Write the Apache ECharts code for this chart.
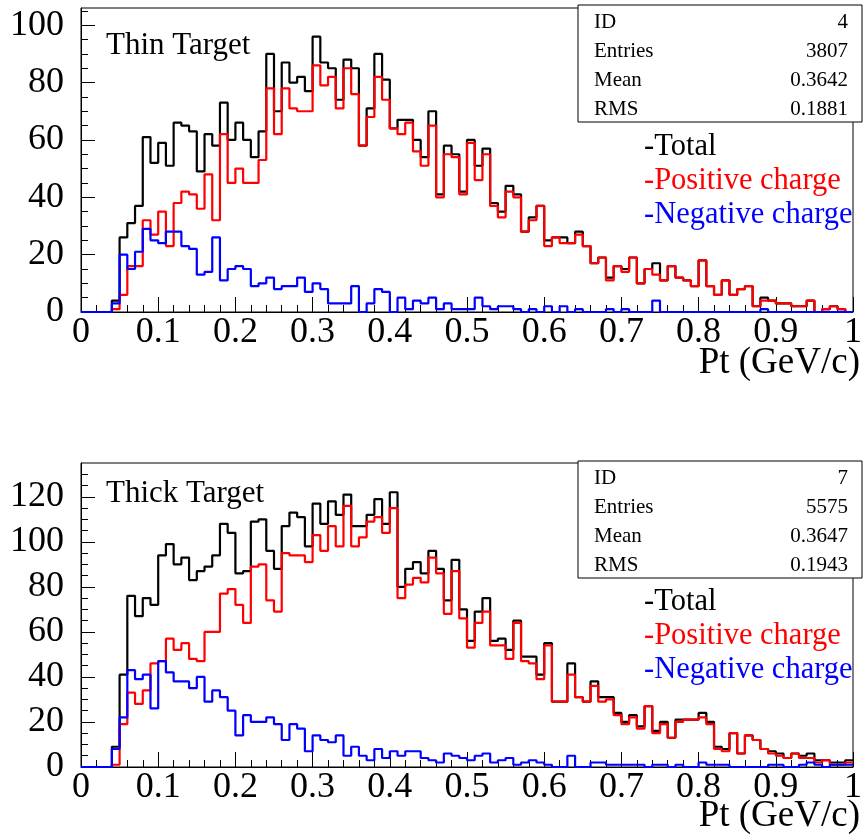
<!DOCTYPE html>
<html>
<head>
<meta charset="utf-8">
<script src="https://cdn.jsdelivr.net/npm/echarts@6/dist/echarts.min.js"></script>
<style>
  html, body { margin: 0; padding: 0; background: #fff; }
  #main { width: 865px; height: 836px; }
</style>
</head>
<body>
<div id="main"></div>
<script>
// Pt histograms, 100 bins of 0.01 GeV/c from 0 to 1
var thinTotal = [0,0,0,0,4,26,31,37,61,52, 59,51,66,65,63,49,62,58,73,60,
  66,60,54,63,90,70,87,80,82,77, 96,87,85,74,88,85,58,71,90,81,
  64,67,67,60,54,70,41,58,55,42, 60,51,57,38,35,44,41,28,33,37,
  25,26,26,24,28,23,17,19,12,16, 15,19,10,15,17,11,16,12,11,9,
  18,9,6,11,6,8,9,2,5,4, 3,3,2,2,4,0,1,2,1,0];
var thinPos = [0,0,0,0,1,6,16,16,32,27, 35,23,38,42,41,36,48,32,62,45,
  50,45,45,53,78,62,78,71,70,70, 86,79,82,71,85,76,58,68,82,74,
  64,62,66,56,51,65,40,55,54,41, 59,46,55,37,33,42,40,28,32,37,
  23,26,24,24,27,23,17,19,11,16, 14,19,10,15,13,11,16,12,11,9,
  18,9,6,11,6,8,9,2,4,4, 3,3,2,2,4,0,1,2,1,0];
var thinNeg = [0,0,0,0,3,20,15,21,29,25, 24,28,28,23,22,13,14,26,11,15,
  16,15,9,10,12,8,9,9,12,7, 10,8,3,3,3,9,0,3,8,7,
  0,5,1,4,3,5,1,3,1,1, 1,5,2,1,2,2,1,0,1,0,
  2,0,2,0,1,0,0,0,1,0, 1,0,0,0,4,0,0,0,0,0,
  0,0,0,0,0,0,0,0,1,0, 0,0,0,0,0,0,0,0,0,0];

var thickTotal = [0,0,0,0,9,41,76,67,75,72, 94,99,90,93,83,87,89,94,108,104,
  86,87,109,110,96,88,107,113,111,98, 117,108,118,112,121,107,107,112,119,108,
  122,80,88,91,86,96,88,74,92,70, 56,69,75,56,57,52,65,49,49,41,
  55,29,29,46,31,29,38,31,31,24, 20,23,18,27,16,20,13,21,21,21,
  24,20,9,8,15,6,14,12,8,7, 6,4,6,5,6,3,3,2,2,3];
var thickPos = [0,0,0,0,1,19,33,28,34,46, 47,57,52,55,48,47,60,60,77,79,
  72,64,89,90,74,69,95,94,94,91, 103,96,107,98,116,98,102,109,111,104,
  115,75,81,84,82,93,86,68,87,66, 53,64,69,54,54,48,64,47,46,39,
  54,29,29,41,31,29,36,29,30,23, 19,22,17,27,15,19,13,20,21,21,
  22,19,8,7,15,6,14,12,8,6, 5,4,6,4,4,2,3,1,1,2];
var thickNeg = [0,0,0,0,8,22,43,39,41,26, 47,42,38,38,35,40,29,34,31,25,
  14,23,20,20,22,19,12,19,17,7, 14,12,11,14,5,9,5,3,8,4,
  7,5,7,7,4,3,2,6,5,4, 3,5,6,2,3,4,1,2,3,2,
  1,0,0,5,0,0,2,2,1,1, 1,1,1,0,1,1,0,1,0,0,
  2,1,1,1,0,0,0,0,0,1, 1,0,0,1,2,1,0,1,1,1];

var xTickLabels = ['0','0.1','0.2','0.3','0.4','0.5','0.6','0.7','0.8','0.9','1'];
var yMajorThin = [0,20,40,60,80,100];
var yMajorThick = [0,20,40,60,80,100,120];
var statsThin = [['ID','4'],['Entries','3807'],['Mean','0.3642'],['RMS','0.1881']];
var statsThick = [['ID','7'],['Entries','5575'],['Mean','0.3647'],['RMS','0.1943']];
var seriesNames = ['-Total','-Positive charge','-Negative charge'];
var colors = ['#000000','#ff0000','#0000ff'];

var FONT = 'Liberation Serif';

function toSteps(values) {
  var d = [];
  for (var i = 0; i < values.length; i++) {
    d.push([i / 100, values[i]]);
  }
  d.push([1, values[values.length - 1]]);
  return d;
}

function minorValues(max) {
  var v = [];
  for (var y = 5; y < max; y += 5) {
    if (y % 20 !== 0) v.push(y);
  }
  return v;
}

var grids = [
  {left: 81, top: 8, width: 780, height: 304},
  {left: 81, top: 463, width: 780, height: 304}
];
var yMax = [106, 135];
var yMajor = [yMajorThin, yMajorThick];

var xAxes = [], yAxes = [];
grids.forEach(function (g, k) {
  g.show = true;
  g.borderColor = '#000';
  g.borderWidth = 1;
  xAxes.push({
    type: 'value', gridIndex: k, min: 0, max: 1, interval: 0.1,
    axisLine: {lineStyle: {color: '#000', width: 1}},
    axisTick: {inside: true, length: 15, lineStyle: {color: '#000'}},
    minorTick: {show: true, splitNumber: 5, length: 7, lineStyle: {color: '#000'}},
    splitLine: {show: false},
    axisLabel: {
      margin: 3, color: '#000', fontFamily: FONT, fontSize: 36,
      formatter: function (v) { return xTickLabels[Math.round(v * 10)]; }
    }
  });
  yAxes.push({
    type: 'value', gridIndex: k, min: 0, max: yMax[k], position: 'left',
    axisLine: {show: true, lineStyle: {color: '#000', width: 1}},
    axisTick: {inside: true, length: 14, customValues: yMajor[k], lineStyle: {color: '#000'}},
    splitLine: {show: false},
    axisLabel: {
      customValues: yMajor[k], margin: 17, color: '#000',
      fontFamily: FONT, fontSize: 36
    }
  });
  yAxes.push({
    type: 'value', gridIndex: k, min: 0, max: yMax[k], position: 'left',
    axisLine: {show: false},
    axisTick: {inside: true, length: 7, customValues: minorValues(yMax[k]), lineStyle: {color: '#000'}},
    splitLine: {show: false},
    axisLabel: {show: false}
  });
});

var panels = [[thinTotal, thinPos, thinNeg], [thickTotal, thickPos, thickNeg]];
var series = [];
panels.forEach(function (p, k) {
  p.forEach(function (vals, j) {
    series.push({
      type: 'line', name: seriesNames[j],
      xAxisIndex: k, yAxisIndex: k * 2,
      step: 'end', symbol: 'none',
      lineStyle: {color: colors[j], width: 2.2},
      data: toSteps(vals),
      z: 2 + j
    });
  });
});

// text and stats boxes
var graphics = [];
function statsBox(rows, top) {
  graphics.push({
    type: 'rect', z: 100,
    shape: {x: 578, y: top, width: 284, height: 117},
    style: {fill: '#fff', stroke: '#000', lineWidth: 1}
  });
  rows.forEach(function (r, i) {
    var cy = top + 17 + i * 29;
    graphics.push({type: 'text', z: 101, x: 594, y: cy,
      style: {text: r[0], font: '21px "' + FONT + '"', fill: '#000', verticalAlign: 'middle'}});
    graphics.push({type: 'text', z: 101, x: 848, y: cy,
      style: {text: r[1], font: '21px "' + FONT + '"', fill: '#000', align: 'right', verticalAlign: 'middle'}});
  });
}
statsBox(statsThin, 5);
statsBox(statsThick, 461);

function labels(title, titleY, legendY, axisTitleY) {
  graphics.push({type: 'text', z: 101, x: 106, y: titleY,
    style: {text: title, font: '31px "' + FONT + '"', fill: '#000', verticalAlign: 'middle'}});
  seriesNames.forEach(function (n, j) {
    graphics.push({type: 'text', z: 101, x: 644, y: legendY + j * 34,
      style: {text: n, font: '30.5px "' + FONT + '"', fill: colors[j], verticalAlign: 'middle'}});
  });
  graphics.push({type: 'text', z: 101, x: 860, y: axisTitleY,
    style: {text: 'Pt (GeV/c)', font: '37px "' + FONT + '"', fill: '#000', align: 'right', verticalAlign: 'middle'}});
}
labels('Thin Target', 46, 147, 363);
labels('Thick Target', 494, 602, 816);

var chart = echarts.init(document.getElementById('main'));
chart.setOption({
  backgroundColor: '#fff',
  animation: false,
  grid: grids,
  xAxis: xAxes,
  yAxis: yAxes,
  series: series,
  graphic: graphics
});
</script>
</body>
</html>
